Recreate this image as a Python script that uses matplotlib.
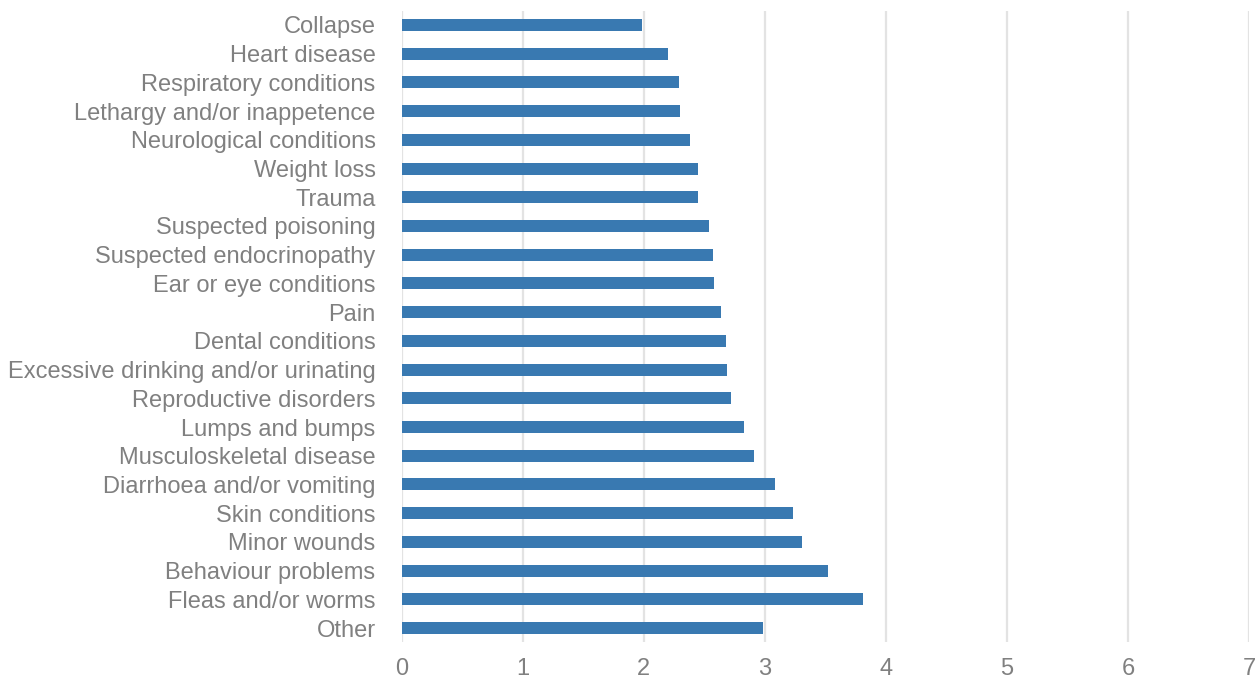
import matplotlib
matplotlib.use("Agg")
import matplotlib.pyplot as plt

plt.rcParams['font.family'] = ['Liberation Sans', 'DejaVu Sans']

categories = [
    "Collapse",
    "Heart disease",
    "Respiratory conditions",
    "Lethargy and/or inappetence",
    "Neurological conditions",
    "Weight loss",
    "Trauma",
    "Suspected poisoning",
    "Suspected endocrinopathy",
    "Ear or eye conditions",
    "Pain",
    "Dental conditions",
    "Excessive drinking and/or urinating",
    "Reproductive disorders",
    "Lumps and bumps",
    "Musculoskeletal disease",
    "Diarrhoea and/or vomiting",
    "Skin conditions",
    "Minor wounds",
    "Behaviour problems",
    "Fleas and/or worms",
    "Other",
]
values = [1.98, 2.20, 2.29, 2.30, 2.38, 2.45, 2.45, 2.54, 2.57, 2.58, 2.64,
          2.68, 2.69, 2.72, 2.83, 2.91, 3.08, 3.23, 3.31, 3.52, 3.81, 2.98]
x_ticks = [0, 1, 2, 3, 4, 5, 6, 7]

bar_color = "#3979B1"
text_color = "#808080"
grid_color = "#E3E3E3"

fig = plt.figure(figsize=(12.56, 6.81), dpi=100)
ax = fig.add_axes([0.32, 0.0567, 0.6744, 0.9277])

positions = list(range(len(categories)))
ax.barh(positions, values, height=0.42, color=bar_color, zorder=3)

ax.set_ylim(len(categories) - 0.5, -0.5)
ax.set_xlim(0, 7)
ax.set_xticks(x_ticks)
ax.set_xticklabels([str(t) for t in x_ticks])
ax.set_yticks(positions)
ax.set_yticklabels(categories)

ax.xaxis.grid(True, color=grid_color, linewidth=1.6, zorder=0)
ax.yaxis.grid(False)
for side in ax.spines.values():
    side.set_visible(False)

ax.tick_params(axis='y', length=0, pad=19, labelsize=17, labelcolor=text_color)
ax.tick_params(axis='x', length=0, pad=11, labelsize=17, labelcolor=text_color)

fig.savefig("out.png", dpi=100)
